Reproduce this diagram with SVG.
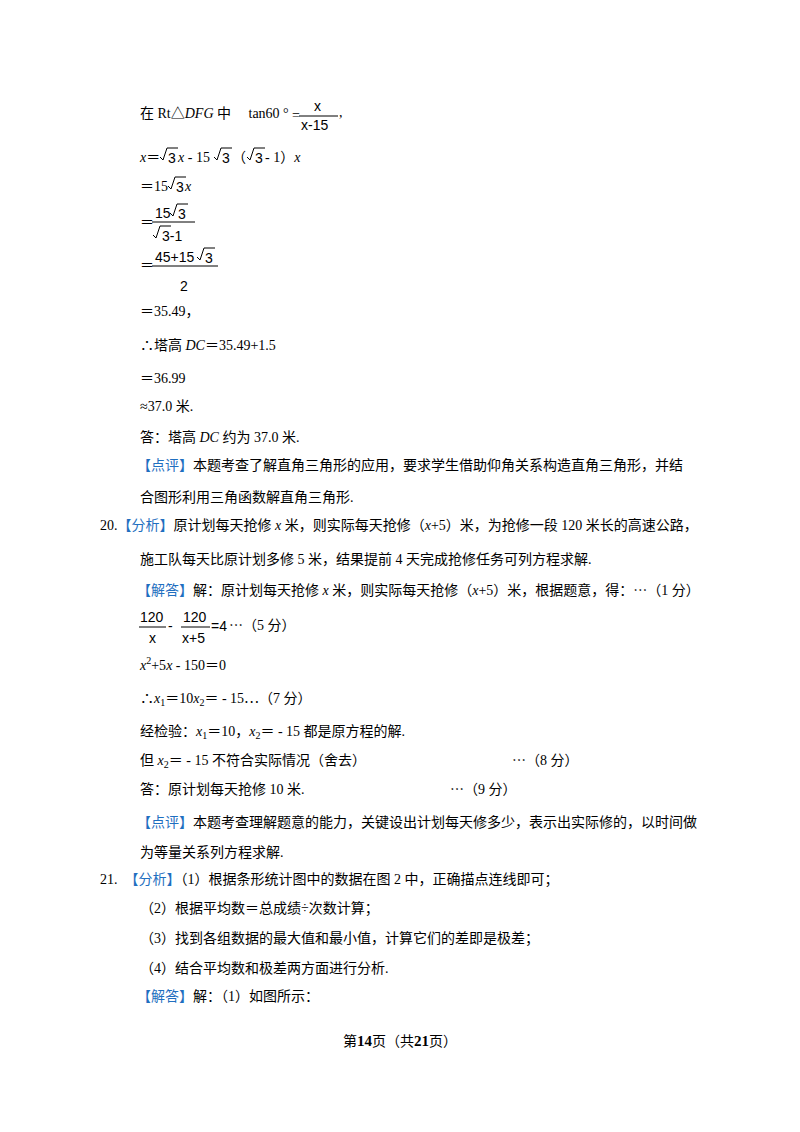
<svg xmlns="http://www.w3.org/2000/svg" width="800" height="1132" viewBox="0 0 800 1132">
<style>
text{font-family:"Liberation Serif","Noto Sans CJK SC",serif;font-size:14px;fill:#000}
.s{font-family:"Liberation Sans","Noto Sans CJK SC",sans-serif;font-size:14px}
.b{fill:#1f6fc0}
.i{font-style:italic}
line{stroke:#000;stroke-width:1}
path{fill:none;stroke:#000;stroke-width:1}
</style>
<rect width="800" height="1132" fill="#fff"/>
<g id="body">
<text x="140" y="118">在 Rt△<tspan class="i">DFG</tspan> 中　 tan60 °</text>
<text x="292" y="120">=</text>
<text x="314" y="111" class="s">x</text>
<line x1="299" y1="116" x2="338" y2="116"/>
<text x="301" y="130" class="s">x-15</text>
<text x="339" y="117">,</text>

<text x="140" y="162"><tspan class="i">x</tspan>＝</text>
<path d="M160 157 l3 3 l4 -12 h11"/>
<text x="168" y="163" class="s">3</text>
<text x="178" y="162"><tspan class="i">x</tspan> - 15</text>
<path d="M214 157 l3 3 l4 -12 h11"/>
<text x="222" y="163" class="s">3</text>
<text x="232" y="162">（</text>
<path d="M247 157 l3 3 l4 -12 h11"/>
<text x="255" y="163" class="s">3</text>
<text x="265" y="162"> - 1）<tspan class="i">x</tspan></text>

<text x="140" y="191">＝15</text>
<path d="M168 186 l3 3 l4 -12 h11"/>
<text x="176" y="192" class="s">3</text>
<text x="185" y="191" class="i">x</text>

<text x="140" y="227">＝</text>
<text x="155" y="218" class="s">15</text>
<path d="M170 213 l3 3 l4 -12 h11"/>
<text x="178" y="219" class="s">3</text>
<line x1="152" y1="222" x2="195" y2="222"/>
<path d="M153 235 l3 3 l4 -12 h11"/>
<text x="162" y="241" class="s">3-1</text>

<text x="140" y="270">＝</text>
<text x="155" y="262" class="s">45+15</text>
<path d="M197 257 l3 3 l4 -12 h11"/>
<text x="205" y="263" class="s">3</text>
<line x1="152" y1="266" x2="218" y2="266"/>
<text x="180" y="291" class="s">2</text>

<text x="140" y="316">＝35.49，</text>
<text x="140" y="350">∴塔高 <tspan class="i">DC</tspan>＝35.49+1.5</text>
<text x="140" y="383">＝36.99</text>
<text x="140" y="411">≈37.0 米.</text>
<text x="140" y="442">答：塔高 <tspan class="i">DC</tspan> 约为 37.0 米.</text>
<text x="137" y="470"><tspan class="b">【点评】</tspan>本题考查了解直角三角形的应用，要求学生借助仰角关系构造直角三角形，并结</text>
<text x="140" y="502">合图形利用三角函数解直角三角形.</text>

<text x="100" y="530">20.<tspan class="b">【分析】</tspan>原计划每天抢修 <tspan class="i">x</tspan> 米，则实际每天抢修（<tspan class="i">x</tspan>+5）米，为抢修一段 120 米长的高速公路，</text>
<text x="140" y="564">施工队每天比原计划多修 5 米，结果提前 4 天完成抢修任务可列方程求解.</text>
<text x="137" y="595"><tspan class="b">【解答】</tspan>解：原计划每天抢修 <tspan class="i">x</tspan> 米，则实际每天抢修（<tspan class="i">x</tspan>+5）米，根据题意，得：⋯（1 分）</text>

<text x="140" y="622" class="s">120</text>
<line x1="139" y1="627" x2="166" y2="627"/>
<text x="149" y="643" class="s">x</text>
<text x="168" y="631" class="s">-</text>
<text x="183" y="622" class="s">120</text>
<line x1="181" y1="627" x2="210" y2="627"/>
<text x="182" y="643" class="s">x+5</text>
<text x="211" y="631" class="s">=4</text>
<text x="229" y="630">⋯（5 分）</text>

<text x="140" y="670"><tspan class="i">x</tspan><tspan dy="-6" font-size="10">2</tspan><tspan dy="6">+5</tspan><tspan class="i">x</tspan> - 150＝0</text>
<text x="140" y="703">∴<tspan class="i">x</tspan><tspan font-size="10" dy="3">1</tspan><tspan dy="-3">＝10</tspan><tspan class="i">x</tspan><tspan font-size="10" dy="3">2</tspan><tspan dy="-3">＝ - 15⋯（7 分）</tspan></text>
<text x="140" y="736">经检验：<tspan class="i">x</tspan><tspan font-size="10" dy="3">1</tspan><tspan dy="-3">＝10，</tspan><tspan class="i">x</tspan><tspan font-size="10" dy="3">2</tspan><tspan dy="-3">＝ - 15 都是原方程的解.</tspan></text>
<text x="140" y="765">但 <tspan class="i">x</tspan><tspan font-size="10" dy="3">2</tspan><tspan dy="-3">＝ - 15 不符合实际情况（舍去）</tspan></text>
<text x="512" y="765">⋯（8 分）</text>
<text x="140" y="794">答：原计划每天抢修 10 米.</text>
<text x="450" y="794">⋯（9 分）</text>
<text x="137" y="827"><tspan class="b">【点评】</tspan>本题考查理解题意的能力，关键设出计划每天修多少，表示出实际修的，以时间做</text>
<text x="140" y="857">为等量关系列方程求解.</text>

<text x="100" y="884">21.　<tspan class="b">【分析】</tspan>（1）根据条形统计图中的数据在图 2 中，正确描点连线即可；</text>
<text x="140" y="913">（2）根据平均数＝总成绩÷次数计算；</text>
<text x="140" y="943">（3）找到各组数据的最大值和最小值，计算它们的差即是极差；</text>
<text x="140" y="973">（4）结合平均数和极差两方面进行分析.</text>
<text x="137" y="1001"><tspan class="b">【解答】</tspan>解：（1）如图所示：</text>
<text x="400" y="1046" text-anchor="middle" font-size="13">第<tspan font-weight="bold" font-size="15">14</tspan>页（共<tspan font-weight="bold" font-size="15">21</tspan>页）</text>
</g>
</svg>
